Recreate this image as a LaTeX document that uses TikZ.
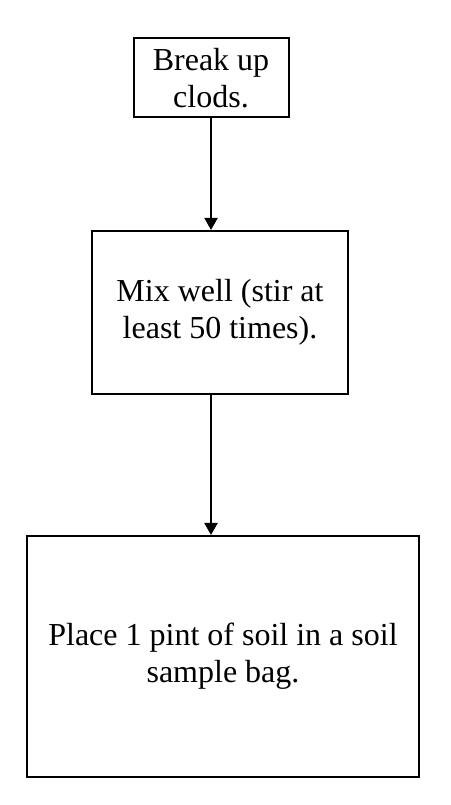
\documentclass[tikz,border=0pt]{standalone}
\usepackage{fontspec}
\setmainfont{Liberation Serif}
\usetikzlibrary{arrows.meta}
\begin{document}
\begin{tikzpicture}[x=1pt, y=1pt,
        stepbox/.style={draw, line width=2pt, align=center, inner sep=0pt,
            font=\fontsize{32}{37}\selectfont},
        flow/.style={-{Triangle[length=12pt, width=13pt]}, line width=2pt}]
        \useasboundingbox (0,0) rectangle (450,805);

        % --- Steps ---
        \node[stepbox, minimum width=155pt, minimum height=79pt] (clods) at (211,727) {Break up\\clods.};
        \node[stepbox, minimum width=256pt, minimum height=163pt] (mix) at (220,492.5) {Mix well (stir at\\least 50 times).};
        \node[stepbox, minimum width=392pt, minimum height=241pt] (bag) at (223,148.5) {Place 1 pint of soil in a soil\\sample bag.};

        % --- Arrows ---
        \draw[flow] (clods.south) -- (clods.south |- mix.north);
        \draw[flow] (mix.south -| clods.south) -- (clods.south |- bag.north);
    \end{tikzpicture}
\end{document}
